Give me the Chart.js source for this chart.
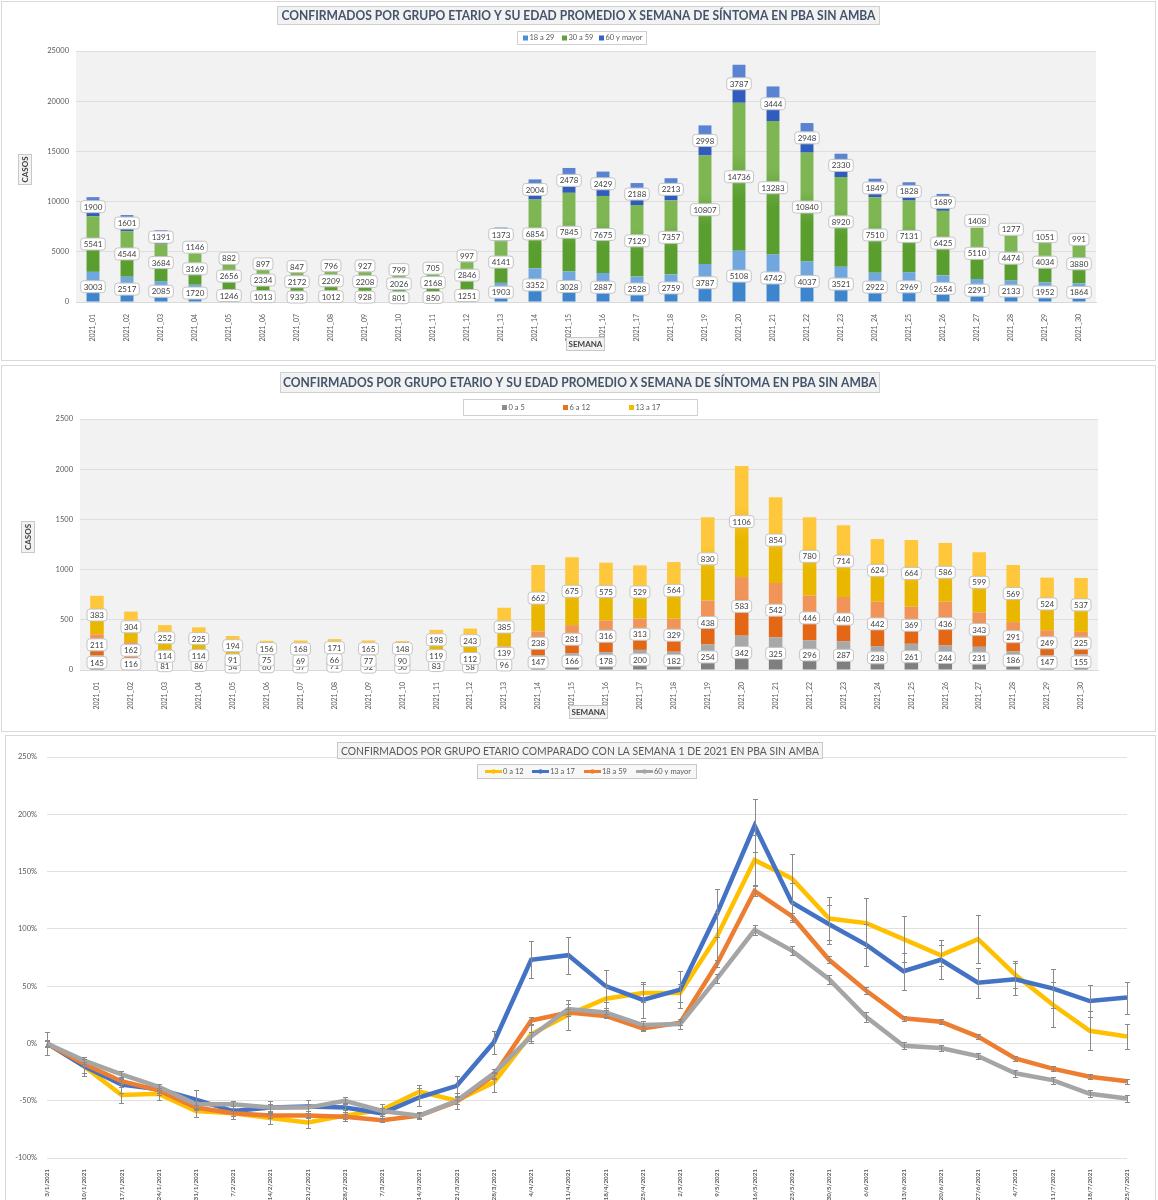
<!DOCTYPE html>
<html>
<head>
<meta charset="utf-8">
<title>Confirmados por grupo etario - PBA sin AMBA</title>
<script src="https://cdn.jsdelivr.net/npm/chart.js@4.4.1/dist/chart.umd.min.js"></script>
<style>
body { margin: 0; background: #fff; width: 1158px; height: 1200px; overflow: hidden; position: relative; }
.panel { position: absolute; border: 1px solid #d9d9d9; box-sizing: border-box; background: #fff; }
.panel canvas { display: block; }
</style>
</head>
<body>
<div class="panel" style="left:1px;top:1px;width:1155px;height:360px"><canvas id="c1" width="1153" height="358"></canvas></div>
<div class="panel" style="left:1px;top:365px;width:1155px;height:367px"><canvas id="c2" width="1153" height="365"></canvas></div>
<div class="panel" style="left:5px;top:735px;width:1151px;height:470px"><canvas id="c3" width="1149" height="468"></canvas></div>

<script>
// semanas epidemiologicas
const semanas = ['2021_01','2021_02','2021_03','2021_04','2021_05','2021_06','2021_07','2021_08','2021_09','2021_10',
    '2021_11','2021_12','2021_13','2021_14','2021_15','2021_16','2021_17','2021_18','2021_19','2021_20',
    '2021_21','2021_22','2021_23','2021_24','2021_25','2021_26','2021_27','2021_28','2021_29','2021_30'];

// grafico 1 - adultos
const casos18a29 = [3003,2517,2085,1720,1246,1013,933,1012,928,801,850,1251,1903,3352,3028,2887,2528,2759,3787,5108,4742,4037,3521,2922,2969,2654,2291,2133,1952,1864];
const casos30a59 = [5541,4544,3684,3169,2656,2334,2172,2209,2208,2026,2168,2846,4141,6854,7845,7675,7129,7357,10807,14736,13283,10840,8920,7510,7131,6425,5110,4474,4034,3880];
const casos60ymas = [1900,1601,1391,1146,882,897,847,796,927,799,705,997,1373,2004,2478,2429,2188,2213,2998,3787,3444,2948,2330,1849,1828,1689,1408,1277,1051,991];

// grafico 2 - menores
const casos0a5 = [145,116,81,86,54,60,57,71,52,50,83,58,96,147,166,178,200,182,254,342,325,296,287,238,261,244,231,186,147,155];
const casos6a12 = [211,162,114,114,91,75,69,66,77,90,119,112,139,238,281,316,313,329,438,583,542,446,440,442,369,436,343,291,249,225];
const casos13a17 = [383,304,252,225,194,156,168,171,165,148,198,243,385,662,675,575,529,564,830,1106,854,780,714,624,664,586,599,569,524,537];

// grafico 3 - variacion respecto de la semana 1 (%)
const fechas = ['3/1/2021','10/1/2021','17/1/2021','24/1/2021','31/1/2021','7/2/2021','14/2/2021','21/2/2021','28/2/2021','7/3/2021',
    '14/3/2021','21/3/2021','28/3/2021','4/4/2021','11/4/2021','18/4/2021','25/4/2021','2/5/2021','9/5/2021','16/5/2021',
    '23/5/2021','30/5/2021','6/6/2021','13/6/2021','20/6/2021','27/6/2021','4/7/2021','11/7/2021','18/7/2021','25/7/2021'];
const var0a12 = [0,-20,-45,-44,-59,-61,-65,-69,-63,-58,-42,-50,-34,8,25,39,44,44,94,160,144,109,105,91,77,91,60,34,11,6];
const var13a17 = [0,-20,-36,-40,-49,-59,-56,-55,-56,-61,-47,-37,1,73,77,50,38,47,114,190,123,104,86,63,73,53,56,48,37,40];
const var18a59 = [0,-18,-33,-41,-56,-61,-63,-63,-64,-67,-63,-51,-28,20,27,24,13,18,70,133,111,73,46,22,19,6,-13,-22,-29,-33];
const var60ymas = [0,-15,-27,-38,-53,-53,-56,-56,-50,-59,-63,-50,-26,6,30,27,16,17,57,99,81,56,23,-2,-4,-11,-26,-32,-44,-48];
// barras de error (+/-)
const err0a12 = [10,8,7,5,5,5,5,5,5,5,6,7,8,8,13,10,8,8,21,22,21,19,22,20,9,21,12,20,17,11];
const err13a17 = [10,6,7,5,8,4,6,6,4,5,8,9,10,16,16,14,16,16,21,23,17,17,18,16,17,13,14,17,14,14];
const err18a59 = [2,2,2,2,2,2,2,2,2,2,2,2,3,3,3,2,2,2,3,4,3,3,3,2,2,2,2,2,2,2];
const err60ymas = [3,3,3,3,3,3,3,3,3,3,3,3,4,4,4,4,4,4,4,4,4,4,4,3,3,3,3,3,3,3];

Chart.defaults.font.family = 'Lato';
Chart.defaults.color = '#595959';

function fitText(ctx, text, cx, cy, maxW) {
    const w = ctx.measureText(text).width;
    ctx.save();
    ctx.translate(cx, cy);
    if (w > maxW) ctx.scale(maxW / w, 1);
    ctx.textAlign = 'center';
    ctx.textBaseline = 'middle';
    ctx.fillText(text, 0, 0);
    ctx.restore();
}

// gradiente de cada segmento: oscuro abajo, claro arriba
function segGradient(dark, light) {
    return function(c) {
        if (c.type !== 'data') return light;
        const chart = c.chart;
        const ys = chart.scales.y;
        if (!chart.chartArea || !ys) return light;
        let base = 0;
        for (let k = 0; k < c.datasetIndex; k++) base += chart.data.datasets[k].data[c.dataIndex];
        const y0 = ys.getPixelForValue(base);
        const y1 = ys.getPixelForValue(base + c.raw);
        if (!isFinite(y0) || !isFinite(y1) || y0 === y1) return light;
        const g = chart.ctx.createLinearGradient(0, y0, 0, y1);
        g.addColorStop(0, dark);
        g.addColorStop(0.35, dark);
        g.addColorStop(0.65, light);
        g.addColorStop(1, light);
        return g;
    };
}

const decorPlugin = {
    id: 'decor',
    beforeDraw(chart, args, opts) {
        if (opts.plotBg) {
            const a = chart.chartArea;
            chart.ctx.save();
            chart.ctx.fillStyle = opts.plotBg;
            chart.ctx.fillRect(a.left, a.top, a.right - a.left, a.bottom - a.top);
            chart.ctx.restore();
        }
    },
    afterDraw(chart, args, opts) {
        const ctx = chart.ctx;
        ctx.save();
        (opts.boxes || []).forEach(function(b) {
            ctx.fillStyle = b.fill;
            ctx.fillRect(b.x, b.y, b.w, b.h);
            ctx.strokeStyle = b.stroke || '#d0d0d0';
            ctx.lineWidth = 1;
            ctx.strokeRect(b.x + 0.5, b.y + 0.5, b.w - 1, b.h - 1);
            if (b.text) {
                ctx.font = b.font;
                ctx.fillStyle = b.color;
                if (b.rotate) {
                    ctx.save();
                    ctx.translate(b.x + b.w / 2, b.y + b.h / 2);
                    ctx.rotate(-Math.PI / 2);
                    fitText(ctx, b.text, 0, 0, b.h - 3);
                    ctx.restore();
                } else {
                    fitText(ctx, b.text, b.x + b.w / 2, b.y + b.h / 2 + 0.5, b.textW || b.w - 4);
                }
            }
        });
        const lg = opts.legend;
        if (lg) {
            ctx.font = lg.font;
            ctx.textAlign = 'left';
            ctx.textBaseline = 'middle';
            chart.data.datasets.forEach(function(ds, i) {
                const x = lg.xs[i];
                if (lg.kind === 'line') {
                    ctx.strokeStyle = ds.borderColor;
                    ctx.lineWidth = 3;
                    ctx.beginPath();
                    ctx.moveTo(x, lg.y);
                    ctx.lineTo(x + lg.len, lg.y);
                    ctx.stroke();
                    ctx.fillStyle = ds.borderColor;
                    ctx.beginPath();
                    ctx.arc(x + lg.len / 2, lg.y, 2.2, 0, Math.PI * 2);
                    ctx.fill();
                    ctx.fillStyle = '#595959';
                    ctx.fillText(ds.label, x + lg.len + 1, lg.y);
                } else {
                    ctx.fillStyle = ds.legendColor;
                    ctx.fillRect(x, lg.y - 2.5, 5, 5);
                    ctx.fillStyle = '#595959';
                    ctx.fillText(ds.label, x + 6.5, lg.y);
                }
            });
        }
        ctx.restore();
    }
};

// etiquetas de valor en el centro de cada segmento
const barLabels = {
    id: 'barLabels',
    afterDatasetsDraw(chart) {
        const ctx = chart.ctx;
        ctx.save();
        ctx.font = '8px Lato';
        ctx.textAlign = 'center';
        ctx.textBaseline = 'middle';
        chart.data.datasets.forEach(function(ds, d) {
            const meta = chart.getDatasetMeta(d);
            meta.data.forEach(function(bar, i) {
                const p = bar.getProps(['x', 'y', 'base'], true);
                const cy = (p.y + p.base) / 2;
                const txt = String(ds.data[i]);
                const w = ctx.measureText(txt).width + 6;
                const h = 12;
                ctx.beginPath();
                ctx.roundRect(p.x - w / 2, cy - h / 2, w, h, 3);
                ctx.fillStyle = '#ffffff';
                ctx.fill();
                ctx.strokeStyle = '#c4c4c4';
                ctx.lineWidth = 1;
                ctx.stroke();
                ctx.fillStyle = '#404040';
                ctx.fillText(txt, p.x, cy + 0.5);
            });
        });
        ctx.restore();
    }
};

const errorBars = {
    id: 'errorBars',
    afterDatasetsDraw(chart) {
        const ctx = chart.ctx;
        const ys = chart.scales.y;
        ctx.save();
        ctx.strokeStyle = '#8a8a8a';
        ctx.lineWidth = 1;
        chart.data.datasets.forEach(function(ds, d) {
            const meta = chart.getDatasetMeta(d);
            meta.data.forEach(function(pt, i) {
                const e = ds.errores[i];
                if (!e) return;
                const y1 = Math.round(ys.getPixelForValue(ds.data[i] + e)) + 0.5;
                const y2 = Math.round(ys.getPixelForValue(ds.data[i] - e)) + 0.5;
                const x = Math.round(pt.x) + 0.5;
                ctx.beginPath();
                ctx.moveTo(x, y1); ctx.lineTo(x, y2);
                ctx.moveTo(x - 2.5, y1); ctx.lineTo(x + 2.5, y1);
                ctx.moveTo(x - 2.5, y2); ctx.lineTo(x + 2.5, y2);
                ctx.stroke();
            });
        });
        ctx.restore();
    }
};

const tituloBarras = 'CONFIRMADOS POR GRUPO ETARIO Y SU EDAD PROMEDIO X SEMANA DE SÍNTOMA EN PBA SIN AMBA';

function barOptions(yMax, yStep, leftW, padRight, padTop, xH, decor) {
    return {
        responsive: false,
        animation: false,
        layout: { padding: { left: 0, top: padTop, right: padRight, bottom: 0 } },
        plugins: { legend: { display: false }, tooltip: { enabled: false }, decor: decor },
        scales: {
            x: {
                stacked: true,
                grid: { display: false },
                border: { color: '#d9d9d9' },
                ticks: { color: '#595959', font: { size: 7 }, minRotation: 90, maxRotation: 90, autoSkip: false, padding: 4 },
                afterFit: function(s) { s.height = xH; }
            },
            y: {
                stacked: true,
                min: 0,
                max: yMax,
                grid: { color: '#dedede', drawTicks: false },
                border: { display: false },
                ticks: { stepSize: yStep, color: '#595959', font: { size: 7.5 }, padding: 7, callback: v => String(v) },
                afterFit: function(s) { s.width = leftW; }
            }
        }
    };
}

// ---------- grafico 1 ----------
new Chart(document.getElementById('c1'), {
    type: 'bar',
    data: {
        labels: semanas,
        datasets: [
            { label: '18 a 29', data: casos18a29, legendColor: '#4a8fd6', backgroundColor: segGradient('#3d85cc', '#6fa7de'), barPercentage: 0.38, categoryPercentage: 1 },
            { label: '30 a 59', data: casos30a59, legendColor: '#5fa236', backgroundColor: segGradient('#5a9e2f', '#7db653'), barPercentage: 0.38, categoryPercentage: 1 },
            {
                label: '60 y mayor', data: casos60ymas, legendColor: '#3463c2', barPercentage: 0.38, categoryPercentage: 1,
                // en el original las ultimas 4 semanas no muestran el segmento, solo su etiqueta
                backgroundColor: function(c) {
                    if (c.type === 'data' && c.dataIndex >= 26) return 'rgba(0,0,0,0)';
                    return segGradient('#2f5cbd', '#5a84d2')(c);
                }
            }
        ]
    },
    options: barOptions(25000, 5000, 74, 59, 49, 58, {
        plotBg: '#f2f2f2',
        boxes: [
            { x: 275, y: 4, w: 603, h: 19, fill: '#f2f2f2', text: tituloBarras, font: 'bold 12.5px Lato', color: '#44546a', textW: 594 },
            { x: 515, y: 29, w: 130, h: 14, fill: '#ffffff' },
            { x: 564, y: 335, w: 39, h: 14, fill: '#f2f2f2', stroke: '#c8c8c8', text: 'SEMANA', font: 'bold 8px Lato', color: '#404040' },
            { x: 16, y: 152, w: 14, h: 31, fill: '#f2f2f2', stroke: '#c8c8c8', text: 'CASOS', font: 'bold 8px Lato', color: '#404040', rotate: true }
        ],
        legend: { kind: 'box', y: 36, xs: [521, 560, 597], font: '7.5px Lato' }
    }),
    plugins: [decorPlugin, barLabels]
});

// ---------- grafico 2 ----------
new Chart(document.getElementById('c2'), {
    type: 'bar',
    data: {
        labels: semanas,
        datasets: [
            { label: '0 a 5', data: casos0a5, legendColor: '#8c8c8c', backgroundColor: segGradient('#7f7f7f', '#a8a8a8'), barPercentage: 0.4, categoryPercentage: 1 },
            { label: '6 a 12', data: casos6a12, legendColor: '#e8731f', backgroundColor: segGradient('#e46716', '#f09458'), barPercentage: 0.4, categoryPercentage: 1 },
            { label: '13 a 17', data: casos13a17, legendColor: '#f5bd00', backgroundColor: segGradient('#eab700', '#ffc83c'), barPercentage: 0.4, categoryPercentage: 1 }
        ]
    },
    options: barOptions(2500, 500, 78, 57, 53, 61, {
        plotBg: '#f2f2f2',
        boxes: [
            { x: 278, y: 6, w: 600, h: 21, fill: '#f2f2f2', text: tituloBarras, font: 'bold 12.5px Lato', color: '#44546a', textW: 594 },
            { x: 461, y: 33, w: 235, h: 17, fill: '#ffffff' },
            { x: 567, y: 339, w: 39, h: 14, fill: '#f2f2f2', stroke: '#c8c8c8', text: 'SEMANA', font: 'bold 8px Lato', color: '#404040' },
            { x: 19, y: 155, w: 14, h: 32, fill: '#f2f2f2', stroke: '#c8c8c8', text: 'CASOS', font: 'bold 8px Lato', color: '#404040', rotate: true }
        ],
        legend: { kind: 'box', y: 41.5, xs: [500, 561, 627], font: '7.5px Lato' }
    }),
    plugins: [decorPlugin, barLabels]
});

// ---------- grafico 3 ----------
function lineSet(label, data, errores, color, order) {
    return { label: label, data: data, errores: errores, borderColor: color, backgroundColor: color, borderWidth: 4.5,
        pointRadius: 0, tension: 0, fill: false, order: order };
}

new Chart(document.getElementById('c3'), {
    type: 'line',
    data: {
        labels: fechas,
        datasets: [
            lineSet('0 a 12', var0a12, err0a12, '#ffc000', 4),
            lineSet('13 a 17', var13a17, err13a17, '#4472c4', 3),
            lineSet('18 a 59', var18a59, err18a59, '#ed7d31', 2),
            lineSet('60 y mayor', var60ymas, err60ymas, '#a5a5a5', 1)
        ]
    },
    options: {
        responsive: false,
        animation: false,
        layout: { padding: { left: 0, top: 21, right: 28, bottom: 0 } },
        plugins: {
            legend: { display: false },
            tooltip: { enabled: false },
            decor: {
                boxes: [
                    { x: 331, y: 6, w: 486, h: 17, fill: '#f4f4f4', stroke: '#c8c8c8',
                      text: 'CONFIRMADOS POR GRUPO ETARIO COMPARADO CON LA SEMANA 1 DE 2021 EN PBA SIN AMBA', font: '11.5px Lato', color: '#595959', textW: 478 },
                    { x: 471, y: 28, w: 220, h: 15, fill: '#f7f7f7', stroke: '#c8c8c8' }
                ],
                legend: { kind: 'line', y: 35.5, xs: [479, 526, 578, 630], len: 17, font: '7.5px Lato' }
            }
        },
        scales: {
            x: {
                offset: false,
                grid: { display: false },
                border: { display: false },
                ticks: { color: '#595959', font: { size: 6.3, weight: 'bold' }, minRotation: 90, maxRotation: 90, autoSkip: false, padding: 3 },
                afterFit: function(s) { s.height = 46; }
            },
            y: {
                min: -100,
                max: 250,
                grid: { color: '#e0e0e0', drawTicks: false },
                border: { display: false },
                ticks: { stepSize: 50, color: '#595959', font: { size: 7.5 }, padding: 10, callback: v => v + '%' },
                afterFit: function(s) { s.width = 41; }
            }
        }
    },
    plugins: [decorPlugin, errorBars]
});
</script>
</body>
</html>
